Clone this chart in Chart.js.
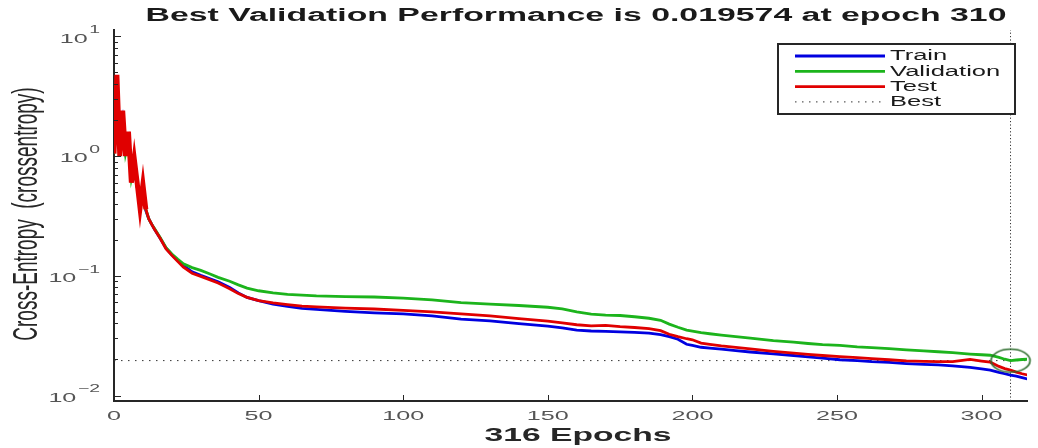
<!DOCTYPE html>
<html>
<head>
<meta charset="utf-8">
<script src="https://cdn.jsdelivr.net/npm/chart.js@4.4.1/dist/chart.umd.min.js"></script>
<style>
  html, body { margin: 0; padding: 0; background: #fff; }
  #wrap { width: 1038px; height: 448px; position: relative; }
</style>
</head>
<body>
<div id="wrap"><canvas id="perfChart"></canvas></div>
<script>
// epochs
const epochs = [0, 1, 2, 3, 4, 5, 6, 7, 8, 9, 10, 11, 12, 13, 14, 16, 18, 20, 22, 24, 27, 30, 33, 36, 40, 43, 46, 50,
  55, 60, 65, 70, 80, 90, 100, 110, 120, 130, 140, 150, 155, 160, 165, 170, 175, 180, 185, 189, 192, 195, 198, 200,
  203, 206, 210, 215, 220, 228, 235, 240, 245, 251, 257, 262, 268, 274, 280, 285, 290, 296, 300, 303, 306, 308, 310,
  312, 314, 316];

const trainLoss = [1.1, 3.2, 1.4, 2.0, 1.1, 1.3, 0.7, 0.8, 0.55, 0.42, 0.48, 0.35, 0.3, 0.27, 0.245, 0.205, 0.17, 0.15,
  0.135, 0.122, 0.108, 0.101, 0.095, 0.089, 0.080, 0.072, 0.066, 0.062,
  0.058, 0.0555, 0.0535, 0.0525, 0.0505, 0.049, 0.048, 0.0462, 0.0435, 0.042, 0.0398, 0.038, 0.0368, 0.0352, 0.0346,
  0.0343, 0.034, 0.0337, 0.0332, 0.0322, 0.031, 0.0295, 0.0268, 0.0262,
  0.0253, 0.0249, 0.0244, 0.0237, 0.0231, 0.0223, 0.0216, 0.021, 0.0205, 0.0199, 0.0196, 0.0192, 0.0189, 0.0185,
  0.0182, 0.018, 0.0177, 0.0172, 0.0167, 0.0163, 0.0156, 0.0152, 0.0148,
  0.0145, 0.0141, 0.0137];

const valLoss = [1.05, 3.6, 1.2, 2.1, 1.05, 1.35, 0.65, 0.85, 0.55, 0.4, 0.5, 0.36, 0.3, 0.27, 0.248, 0.208, 0.172,
  0.152, 0.138, 0.126, 0.117, 0.111, 0.104, 0.097, 0.090, 0.084, 0.079, 0.075,
  0.072, 0.070, 0.069, 0.068, 0.067, 0.0665, 0.065, 0.063, 0.0596, 0.058, 0.0565, 0.0546, 0.053, 0.050, 0.0478,
  0.047, 0.0466, 0.0455, 0.0442, 0.0425, 0.0395, 0.0372, 0.0352, 0.0345,
  0.0335, 0.0328, 0.032, 0.031, 0.0302, 0.0288, 0.0279, 0.0272, 0.0266, 0.0262, 0.0255, 0.0251, 0.0246, 0.0241,
  0.0236, 0.0232, 0.0228, 0.0222, 0.0219, 0.0217, 0.0208, 0.0201, 0.019574,
  0.0198, 0.0200, 0.0201];

const testLoss = [1.05, 4.76, 1.0, 2.4, 1.0, 1.6, 0.6, 0.95, 0.6, 0.37, 0.58, 0.36, 0.3, 0.27, 0.245, 0.205, 0.168,
  0.148, 0.132, 0.118, 0.105, 0.099, 0.093, 0.087, 0.078, 0.071, 0.066, 0.062,
  0.0595, 0.0575, 0.0557, 0.055, 0.0537, 0.0528, 0.0515, 0.050, 0.048, 0.0462, 0.0438, 0.0418, 0.0405, 0.039, 0.0382,
  0.0385, 0.0376, 0.037, 0.0362, 0.0348, 0.0325, 0.031, 0.0298, 0.0292,
  0.0274, 0.0268, 0.026, 0.0252, 0.0245, 0.0234, 0.0226, 0.0221, 0.0216, 0.0211, 0.0207, 0.0203, 0.0199, 0.0195,
  0.0193, 0.0192, 0.0192, 0.0200, 0.0194, 0.0190, 0.0175, 0.0168, 0.0163,
  0.0157, 0.0152, 0.0148];

const bestEpoch = 310;
const bestPerf = 0.019574;
const xTicks = [0, 50, 100, 150, 200, 250, 300];
const yTickExps = [-2, -1, 0, 1];

const X_MIN = 0, X_MAX = 315.7;
const Y_MIN = 0.009, Y_MAX = 11.3;
const SX = 1.85; // the picture is wide-stretched text
const FONT = '"Liberation Sans", Arial, sans-serif';

function pts(arr) {
  return epochs.map((e, i) => ({ x: e, y: arr[i] }));
}

// early noisy epochs look blocky in the picture
const earlyWidth = ctx => (ctx.p0.parsed.x < 11 ? 5 : undefined);

// ellipse marker for the best point
const ring = document.createElement('canvas');
ring.width = 44; ring.height = 28;
(function () {
  const c = ring.getContext('2d');
  c.strokeStyle = '#2b6b2b';
  c.lineWidth = 1.6;
  c.beginPath();
  c.ellipse(22, 14, 19.5, 11.5, 0, 0, Math.PI * 2);
  c.stroke();
})();

function wideText(ctx, text, x, y, align, font, color, sx) {
  ctx.save();
  ctx.font = font;
  ctx.fillStyle = color;
  ctx.textBaseline = 'middle';
  ctx.textAlign = align;
  ctx.translate(x, y);
  ctx.scale(sx, 1);
  ctx.fillText(text, 0, 0);
  ctx.restore();
}

const matlabLook = {
  id: 'matlabLook',
  afterDraw(chart) {
    const ctx = chart.ctx;
    const xs = chart.scales.x, ys = chart.scales.y;
    const area = chart.chartArea;

    // tick marks pointing inward
    ctx.save();
    ctx.strokeStyle = '#262626';
    ctx.lineWidth = 1;
    for (let p = -3; p <= 1; p++) {
      for (let m = 1; m <= 9; m++) {
        const v = m * Math.pow(10, p);
        if (v < Y_MIN || v > Y_MAX) continue;
        const y = Math.round(ys.getPixelForValue(v)) + 0.5;
        const len = m === 1 ? 7 : 4;
        ctx.beginPath();
        ctx.moveTo(area.left, y);
        ctx.lineTo(area.left + len, y);
        ctx.stroke();
      }
    }
    xTicks.forEach(t => {
      const x = Math.round(xs.getPixelForValue(t)) + 0.5;
      ctx.beginPath();
      ctx.moveTo(x, area.bottom);
      ctx.lineTo(x, area.bottom - 6);
      ctx.stroke();
    });
    ctx.restore();

    // tick labels
    xTicks.forEach(t => {
      wideText(ctx, String(t), xs.getPixelForValue(t), area.bottom + 15, 'center', '13.6px ' + FONT, '#555', SX);
    });
    yTickExps.forEach(p => {
      const y = ys.getPixelForValue(Math.pow(10, p));
      const exp = p < 0 ? '\u2212' + Math.abs(p) : String(p);
      ctx.save();
      ctx.font = '10.5px ' + FONT;
      const expW = ctx.measureText(exp).width * SX;
      ctx.restore();
      const right = 100;
      wideText(ctx, exp, right - expW, y - 6, 'left', '10.5px ' + FONT, '#555', SX);
      wideText(ctx, '10', right - expW - 1.5, y + 2.5, 'right', '13.6px ' + FONT, '#555', SX);
    });

    // titles
    wideText(ctx, 'Best Validation Performance is 0.019574 at epoch 310', 576, 16, 'center',
      'bold 18.3px ' + FONT, '#1a1a1a', SX);
    wideText(ctx, '316 Epochs', 578, 436, 'center', 'bold 18.2px ' + FONT, '#262626', SX);

    ctx.save();
    ctx.translate(37, 214);
    ctx.rotate(-Math.PI / 2);
    ctx.scale(1, SX);
    ctx.font = '19px ' + FONT;
    ctx.fillStyle = '#262626';
    ctx.textAlign = 'center';
    ctx.textBaseline = 'alphabetic';
    ctx.fillText('Cross-Entropy  (crossentropy)', 0, 0);
    ctx.restore();

    // legend box
    const box = { l: 778, t: 44, r: 1015, b: 114 };
    ctx.save();
    ctx.fillStyle = '#fff';
    ctx.fillRect(box.l, box.t, box.r - box.l, box.b - box.t);
    ctx.strokeStyle = '#262626';
    ctx.lineWidth = 2;
    ctx.strokeRect(box.l, box.t, box.r - box.l, box.b - box.t);
    ctx.restore();
    const rows = chart.data.datasets.filter(d => d.inLegend);
    rows.forEach((d, i) => {
      const y = 56 + i * 15.3;
      ctx.save();
      ctx.strokeStyle = d.borderColor;
      ctx.lineWidth = d.borderWidth;
      ctx.setLineDash(d.borderDash || []);
      ctx.beginPath();
      ctx.moveTo(795, y);
      ctx.lineTo(885, y);
      ctx.stroke();
      ctx.restore();
      wideText(ctx, d.label, 890, y + 0.5, 'left', '13.8px ' + FONT, '#1a1a1a', SX);
    });
  }
};

const axisBorder = { display: true, color: '#262626', width: 2 };

new Chart(document.getElementById('perfChart'), {
  type: 'line',
  data: {
    datasets: [
      {
        label: 'Train', data: pts(trainLoss), borderColor: '#0000e0', borderWidth: 2.8,
        pointRadius: 0, order: 3, inLegend: true
      },
      {
        label: 'Validation', data: pts(valLoss), borderColor: '#1cb41c', borderWidth: 2.8,
        pointRadius: 0, order: 2, inLegend: true
      },
      {
        label: 'Test', data: pts(testLoss), borderColor: '#e00000', borderWidth: 2.8,
        pointRadius: 0, order: 1, inLegend: true,
        segment: { borderWidth: earlyWidth }
      },
      {
        label: 'Best', data: [{ x: X_MIN, y: bestPerf }, { x: 316, y: bestPerf }],
        borderColor: '#333', borderWidth: 1, borderDash: [1.5, 5.5], pointRadius: 0, order: 4, inLegend: true
      },
      {
        label: 'Best', data: [{ x: bestEpoch, y: Y_MIN }, { x: bestEpoch, y: Y_MAX }],
        borderColor: '#333', borderWidth: 1, borderDash: [1.2, 2.2], pointRadius: 0, order: 4
      },
      {
        label: 'BestPoint', data: [{ x: bestEpoch, y: bestPerf }], showLine: false,
        pointStyle: ring, pointRadius: 10, order: 0, clip: false
      }
    ]
  },
  options: {
    responsive: true,
    maintainAspectRatio: false,
    animation: false,
    events: [],
    layout: { padding: { left: 114, right: 0, top: 30, bottom: 47 } },
    plugins: {
      legend: { display: false },
      tooltip: { enabled: false },
      title: { display: false }
    },
    scales: {
      x: {
        type: 'linear', min: X_MIN, max: X_MAX,
        ticks: { display: false },
        grid: { display: false, drawTicks: false },
        border: axisBorder
      },
      y: {
        type: 'logarithmic', min: Y_MIN, max: Y_MAX,
        ticks: { display: false },
        grid: { display: false, drawTicks: false },
        border: axisBorder
      }
    }
  },
  plugins: [matlabLook]
});
</script>
</body>
</html>
